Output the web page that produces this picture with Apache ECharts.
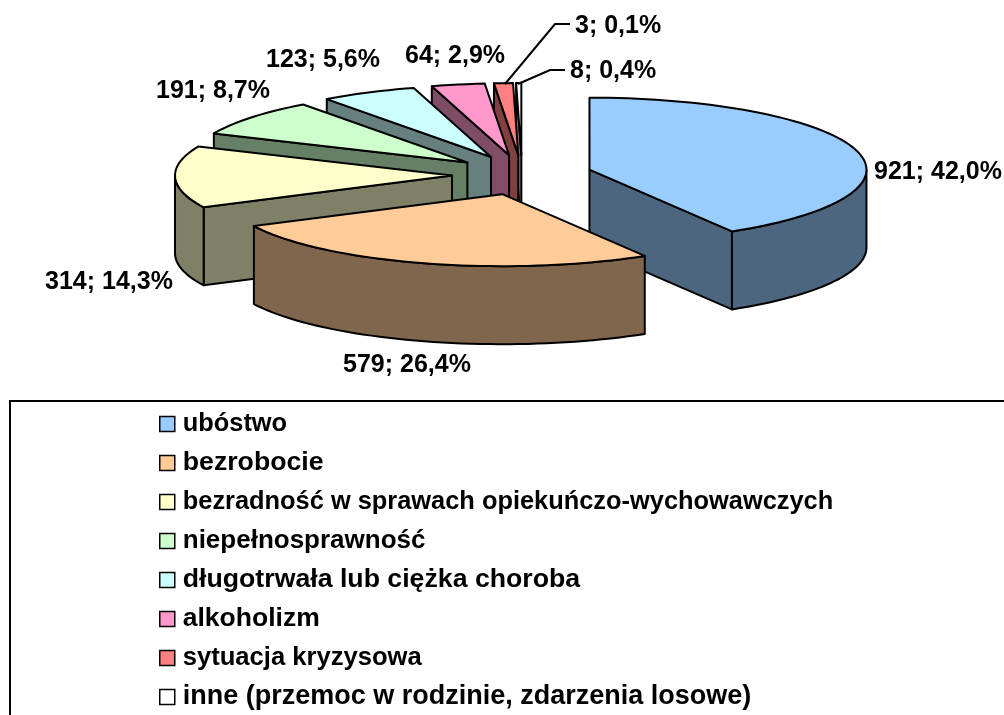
<!DOCTYPE html>
<html><head><meta charset="utf-8">
<style>html,body{margin:0;padding:0;background:#fff}#c{width:1004px;height:715px}</style>
<script src="https://cdn.jsdelivr.net/npm/echarts@6/dist/echarts.min.js"></script>
</head><body><div id="c"></div>
<script>
const categories = ['ubóstwo','bezrobocie','bezradność w sprawach opiekuńczo-wychowawczych','niepełnosprawność','długotrwała lub ciężka choroba','alkoholizm','sytuacja kryzysowa','inne (przemoc w rodzinie, zdarzenia losowe)'];
const values = [921,579,314,191,123,64,3,8];
const percentLabels = ['42,0','26,4','14,3','8,7','5,6','2,9','0,1','0,4'];
// share of the full circle each wedge visibly covers in the picture (%)
const wedgeShares = [41.4,26.3,13.9,8.3,5.6,3.1,1.1,0.3];
const topColors = ['#99CCFF','#FFCC99','#FFFFCC','#CCFFCC','#CCFFFF','#FF99CC','#FF8080','#FFFFFF'];
const wallColors = ['#4D6680','#80664D','#808066','#668066','#668080','#804D66','#804040','#808080'];

const FONT = 'bold 25px "Liberation Sans", Arial, sans-serif';
const CX=522, CY=175, RX=277, RY=72, EX=70, EY=20, DEPTH=78;
const LW=2;
const drawOrder=[7,6,5,4,3,2,0,1];
const labelPos=[[874,172],[343,365],[45,282],[156,91],[266,60],[405,56],[575,26],[570,71]];
const leaders={6:[[505,84],[555,24],[570,24]],7:[[518,84],[550,70],[565,70]]};
const legendFontSizes=[25.4,26.7,25.4,26,26.7,26.5,25.6,27];

const total=wedgeShares.reduce((a,b)=>a+b,0);
let acc=0;
const spans=wedgeShares.map(s=>{const a=acc/total*360;acc+=s;return [a,acc/total*360];});
const rad=d=>d*Math.PI/180;

function wedgeChildren(i){
  const [a0,a1]=spans[i], m=rad((a0+a1)/2);
  const ax=CX+Math.sin(m)*EX, ay=CY-Math.cos(m)*EY;
  const pt=d=>[ax+Math.sin(rad(d))*RX, ay-Math.cos(rad(d))*RY];
  const arc=(f,t)=>{const n=Math.max(1,Math.ceil((t-f)/2)),r=[];for(let k=0;k<=n;k++)r.push(pt(f+(t-f)*k/n));return r;};
  const down=p=>[p[0],p[1]+DEPTH];
  const apex=[ax,ay];
  const kids=[];
  const poly=(pts,fill)=>kids.push({type:'polygon',shape:{points:pts},style:{fill:fill,stroke:'#000',lineWidth:LW,lineJoin:'round'}});
  const radialWall=d=>{const p=pt(d);poly([apex,p,down(p),down(apex)],wallColors[i]);};
  if(Math.sin(rad(a0))<-1e-6) radialWall(a0);
  if(Math.sin(rad(a1))>1e-6) radialWall(a1);
  const f=Math.max(a0,90), t=Math.min(a1,270);
  if(t>f){const r=arc(f,t);poly(r.concat(r.map(down).reverse()),wallColors[i]);}
  poly([apex].concat(arc(a0,a1)),topColors[i]);
  if(leaders[i]) kids.push({type:'polyline',shape:{points:leaders[i]},style:{fill:null,stroke:'#000',lineWidth:LW}});
  kids.push({type:'text',style:{text:values[i]+'; '+percentLabels[i]+'%',x:labelPos[i][0],y:labelPos[i][1],font:FONT,fill:'#000',align:'left',verticalAlign:'middle'}});
  return kids;
}

const series=categories.map((name,i)=>({
  type:'custom',name:name,coordinateSystem:'none',silent:true,
  z:2+drawOrder.indexOf(i),
  itemStyle:{color:topColors[i]},
  data:[[values[i]]],
  renderItem:()=>({type:'group',children:wedgeChildren(i)})
}));

const legendText=size=>({fontFamily:'"Liberation Sans", Arial, sans-serif',fontWeight:'bold',fontSize:size,color:'#000',padding:[0,0,0,3],lineHeight:28});
const chart=echarts.init(document.getElementById('c'),null,{renderer:'canvas'});
chart.setOption({
  animation:false,
  backgroundColor:'#fff',
  graphic:[{type:'rect',z:0,silent:true,shape:{x:10,y:401,width:1100,height:400},style:{fill:'#fff',stroke:'#000',lineWidth:2}}],
  legend:{
    show:true,orient:'vertical',left:159,top:410,icon:'rect',itemWidth:15,itemHeight:15,itemGap:11,selectedMode:false,z:5,
    data:categories.map((n,i)=>({name:n,itemStyle:{color:topColors[i],borderColor:'#000',borderWidth:1.5},textStyle:legendText(legendFontSizes[i])})),
    textStyle:legendText(25.4),
    padding:0
  },
  series:series
});
</script></body></html>
